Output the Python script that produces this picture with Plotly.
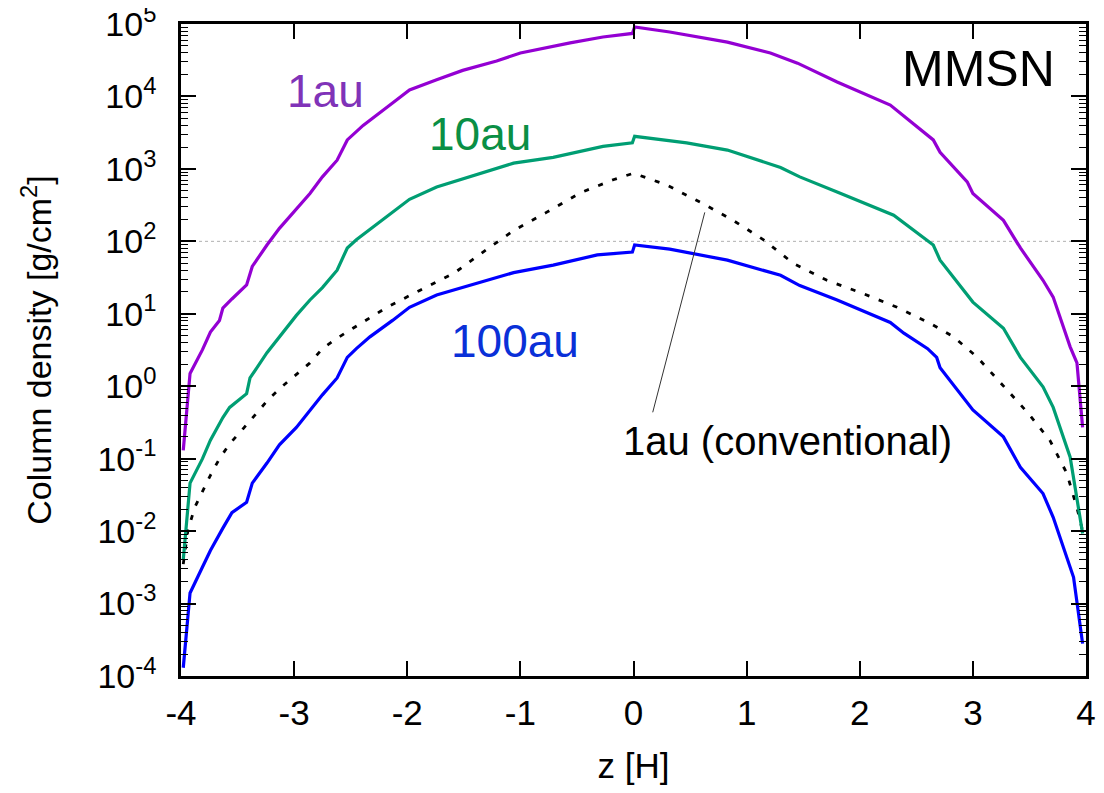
import plotly.graph_objects as go

# ---- data ----
z_1au = [-3.98, -3.92, -3.81, -3.74, -3.66, -3.63, -3.55, -3.42, -3.37, -3.24, -3.13, -2.98,
         -2.86, -2.75, -2.62, -2.53, -2.39, -2.13, -1.98, -1.74, -1.51, -1.21, -1.00, -0.56,
         -0.27, -0.01, 0.01, 0.32, 0.83, 1.21, 1.45, 1.80, 2.27, 2.65, 2.71, 2.95, 3.00,
         3.27, 3.42, 3.62, 3.71, 3.86, 3.92, 3.97]
sigma_1au = [0.13, 1.5, 3.2, 5.6, 8.1, 12, 16, 25, 45, 89, 151, 282,
             457, 776, 1318, 2512, 3981, 8128, 12300, 16980, 22900, 30900, 39800, 55000,
             66100, 74100, 91200, 77600, 56200, 39800, 28800, 15800, 7590, 2512, 1698, 661, 457,
             195, 81, 29, 17, 3.5, 2.1, 0.27]

z_10au = [-3.98, -3.92, -3.81, -3.74, -3.63, -3.57, -3.42, -3.39, -3.24, -3.10, -2.98, -2.86,
          -2.75, -2.62, -2.53, -2.45, -2.30, -2.13, -1.98, -1.74, -1.45, -1.06, -0.71, -0.27,
          -0.01, 0.01, 0.47, 0.83, 1.30, 1.47, 1.80, 2.30, 2.65, 2.71, 3.00, 3.27, 3.42,
          3.62, 3.71, 3.86, 3.97]
sigma_10au = [0.004, 0.046, 0.10, 0.18, 0.37, 0.51, 0.79, 1.3, 2.9, 5.4, 9.5, 15.5,
              23, 40, 81, 105, 158, 251, 380, 562, 776, 1202, 1445, 2042,
              2291, 2818, 2291, 1820, 1047, 776, 479, 229, 89, 55, 14.5, 6.3, 2.5,
              0.98, 0.51, 0.105, 0.0093]

z_100au = [-3.98, -3.92, -3.81, -3.74, -3.63, -3.55, -3.42, -3.37, -3.24, -3.13, -2.98, -2.86,
           -2.75, -2.62, -2.53, -2.45, -2.33, -2.13, -1.98, -1.74, -1.45, -1.06, -0.71, -0.32,
           -0.01, 0.01, 0.32, 0.83, 1.30, 1.47, 1.80, 2.27, 2.39, 2.60, 2.68, 2.71, 3.00,
           3.27, 3.42, 3.62, 3.71, 3.89, 3.97]
sigma_100au = [1.3e-4, 1.4e-3, 3.2e-3, 5.4e-3, 0.011, 0.018, 0.025, 0.046, 0.087, 0.155, 0.27, 0.47,
               0.76, 1.3, 2.5, 3.3, 4.8, 8.1, 12.3, 18.2, 24.5, 37, 47, 65,
               71, 89, 78, 55, 34, 24.5, 15.5, 7.6, 5.4, 3.3, 2.5, 1.8, 0.47,
               0.20, 0.076, 0.033, 0.0155, 0.0023, 2.8e-4]

z_conv = [-3.98, -3.94, -3.88, -3.81, -3.74, -3.66, -3.57, -3.45, -3.35, -3.23, -3.11, -2.99,
          -2.86, -2.75, -2.62, -2.48, -2.18, -1.89, -1.59, -1.33, -1.06, -0.77, -0.47, -0.18,
          0.0, 0.29, 0.59, 0.88, 1.15, 1.41, 1.71, 2.03, 2.33, 2.62, 2.83, 3.04, 3.27,
          3.48, 3.68, 3.83, 3.92, 3.97]
sigma_conv = [0.0035, 0.010, 0.021, 0.036, 0.059, 0.10, 0.16, 0.26, 0.40, 0.65, 0.98, 1.4,
              2.1, 3.3, 4.6, 6.3, 12.3, 21, 36, 71, 141, 251, 468, 708,
              871, 603, 347, 195, 105, 50, 29, 19, 12.3, 7.4, 4.8, 2.5, 1.02,
              0.44, 0.18, 0.063, 0.021, 0.010]

x_ticks = [-4, -3, -2, -1, 0, 1, 2, 3, 4]
x_ticktext = ["-4", "-3", "-2", "-1", "0", "1", "2", "3", "4"]
y_exponents = [-4, -3, -2, -1, 0, 1, 2, 3, 4, 5]
y_ticks = [10.0 ** e for e in y_exponents]
y_ticktext = ["10<sup>%d</sup>" % e for e in y_exponents]
y_minor = [m * 10.0 ** e for e in y_exponents[:-1] for m in range(2, 10)]

FONT = "Liberation Sans, Arial, Helvetica, sans-serif"

fig = go.Figure()
fig.add_trace(go.Scatter(x=z_conv, y=sigma_conv, mode="lines",
                         line=dict(color="black", width=2.8, dash="5px,10px"), showlegend=False))
fig.add_trace(go.Scatter(x=z_100au, y=sigma_100au, mode="lines",
                         line=dict(color="#0000ff", width=3.2), showlegend=False))
fig.add_trace(go.Scatter(x=z_10au, y=sigma_10au, mode="lines",
                         line=dict(color="#009e73", width=3.2), showlegend=False))
fig.add_trace(go.Scatter(x=z_1au, y=sigma_1au, mode="lines",
                         line=dict(color="#9400d3", width=3.2), showlegend=False))

# dotted reference line at 10^2
fig.add_shape(type="line", xref="paper", yref="y", x0=0, x1=1, y0=100, y1=100,
              line=dict(color="#b0b0b0", width=1, dash="dot"), layer="below")
# leader line for the conventional label
fig.add_shape(type="line", xref="x", yref="y", x0=0.17, y0=10 ** -0.36, x1=0.63, y1=10 ** 2.40,
              line=dict(color="#333333", width=1))

ann = [
    dict(text="1au", x=-2.72, y=4.07, color="#8033b8", size=46),
    dict(text="10au", x=-1.36, y=3.48, color="#0a8f45", size=46),
    dict(text="100au", x=-1.05, y=0.62, color="#0a30d8", size=46),
    dict(text="MMSN", x=3.05, y=4.38, color="black", size=50),
    dict(text="1au (conventional)", x=1.36, y=-0.75, color="black", size=40),
]
for a in ann:
    fig.add_annotation(x=a["x"], y=a["y"], xref="x", yref="y", text=a["text"], showarrow=False,
                       font=dict(family=FONT, size=a["size"], color=a["color"]),
                       xanchor="center", yanchor="middle")

axis_common = dict(showline=True, linecolor="black", linewidth=2.5, mirror="allticks",
                   ticks="inside", tickcolor="black", tickwidth=1.5, ticklen=15,
                   showgrid=False, zeroline=False, ticklabeloverflow="allow")

fig.update_xaxes(range=[-4, 4], tickmode="array", tickvals=x_ticks, ticktext=x_ticktext,
                 ticklabelstandoff=4,
                 tickfont=dict(family=FONT, size=35, color="black"),
                 title=dict(text="z [H]", font=dict(family=FONT, size=35, color="black"), standoff=24),
                 **axis_common)
fig.update_yaxes(type="log", range=[-4, 5], tickmode="array", tickvals=y_ticks, ticktext=y_ticktext,
                 ticklabelstandoff=15,
                 tickfont=dict(family=FONT, size=34, color="black"),
                 minor=dict(ticks="inside", ticklen=7, tickwidth=1.2, tickcolor="black",
                            tickmode="array", tickvals=y_minor, showgrid=False),
                 title=dict(text="Column density [g/cm<sup>2</sup>]",
                            font=dict(family=FONT, size=34, color="black"), standoff=36),
                 **axis_common)

# page body keeps a default 8px margin, so the figure is offset by it
fig.update_layout(width=1096, height=777, plot_bgcolor="white", paper_bgcolor="white",
                  margin=dict(l=173, r=18, t=16, b=109, autoexpand=False),
                  font=dict(family=FONT, color="black"))

fig.write_html("out.html")
